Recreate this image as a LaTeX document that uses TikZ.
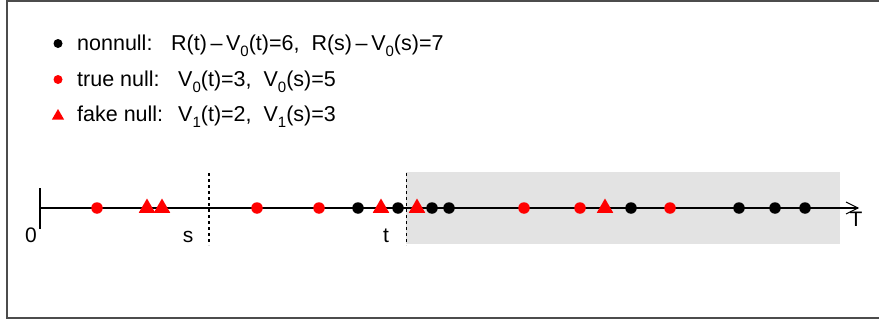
\documentclass[tikz,border=0pt]{standalone}
\usepackage{fontspec}
\setmainfont{Liberation Sans}
\usetikzlibrary{shapes.geometric}
\newcommand{\lsub}[1]{\raisebox{-0.28em}{\fontsize{15}{15}\selectfont #1}}
\tikzset{
  dotb/.style={circle, fill=black, inner sep=0pt, minimum size=11.5pt},
  dotr/.style={circle, fill=red, inner sep=0pt, minimum size=11.5pt},
  trir/.style={regular polygon, regular polygon sides=3, fill=red, inner sep=0pt, minimum size=19pt},
  ldotb/.style={circle, fill=black, inner sep=0pt, minimum size=9pt},
  ldotr/.style={circle, fill=red, inner sep=0pt, minimum size=9pt},
  ltrir/.style={regular polygon, regular polygon sides=3, fill=red, inner sep=0pt, minimum size=14pt},
  lbl/.style={font=\fontsize{21.5}{25}\selectfont, inner sep=0pt, anchor=base west},
  ax/.style={font=\fontsize{21}{25}\selectfont, inner sep=0pt, anchor=base},
  vdash/.style={line width=1.1pt, dash pattern=on 3pt off 3pt},
}
\begin{document}
\begin{tikzpicture}[x=1pt,y=-1pt]
\useasboundingbox (0,0) rectangle (879,324);
% frame
\draw[line width=2pt, draw=black!70] (885,1) -- (6.5,1) -- (6.5,318) -- (885,318);
% legend
\node[ldotb] (l1) at (58,43.5) {};
\node[ldotr] (l2) at (58,79.5) {};
\node[ltrir] (l3) at (58,116) {};
\node[lbl] (t1) at (77,50.5) {nonnull:};
\node[lbl] (e1) at (171,50.5) {R(t)\,–\,V\lsub{0}(t)=6,\ \ R(s)\,–\,V\lsub{0}(s)=7};
\node[lbl] (t2) at (77,86) {true null:};
\node[lbl] (e2) at (178,86) {V\lsub{0}(t)=3,\ \ V\lsub{0}(s)=5};
\node[lbl] (t3) at (77,121.5) {fake null:};
\node[lbl] (e3) at (178,121.5) {V\lsub{1}(t)=2,\ \ V\lsub{1}(s)=3};
% shaded region
\fill[black!11] (406,172) rectangle (840,244);
% axis
\coordinate (o) at (40,208);
\coordinate (tend) at (858,208);
\coordinate (tktop) at (40,188);
\coordinate (tkbot) at (40,229);
\draw[line width=1.3pt] (tktop) -- (tkbot);
\draw[line width=1.3pt] (o) -- (tend);
\draw[line width=1.1pt] (846,202) -- (tend) -- (846,214);
\coordinate (sa) at (209,173);
\coordinate (sb) at (209,245);
\coordinate (ta) at (406.5,173);
\coordinate (tb) at (406.5,245);
\draw[vdash] (sa) -- (sb);
\draw[vdash] (ta) -- (tb);
\node[ax] (zero) at (31,242) {0};
\node[ax] (slab) at (188,242) {s};
\node[ax] (tlab) at (386,242) {t};
\node[ax] (Tlab) at (856,226) {T};
% points
\node[dotr] (p1) at (97,208) {};
\node[trir] (p2) at (147,208) {};
\node[trir] (p3) at (162,208) {};
\node[dotr] (p4) at (257,208) {};
\node[dotr] (p5) at (319,208) {};
\node[dotb] (p6) at (358,208) {};
\node[trir] (p7) at (381,208) {};
\node[dotb] (p8) at (398,208) {};
\node[trir] (p9) at (417,208) {};
\node[dotb] (p10) at (432,208) {};
\node[dotb] (p11) at (449,208) {};
\node[dotr] (p12) at (524,208) {};
\node[dotr] (p13) at (580,208) {};
\node[trir] (p14) at (605,208) {};
\node[dotb] (p15) at (631,208) {};
\node[dotr] (p16) at (670,208) {};
\node[dotb] (p17) at (739,208) {};
\node[dotb] (p18) at (775,208) {};
\node[dotb] (p19) at (805,208) {};
\end{tikzpicture}
\end{document}
